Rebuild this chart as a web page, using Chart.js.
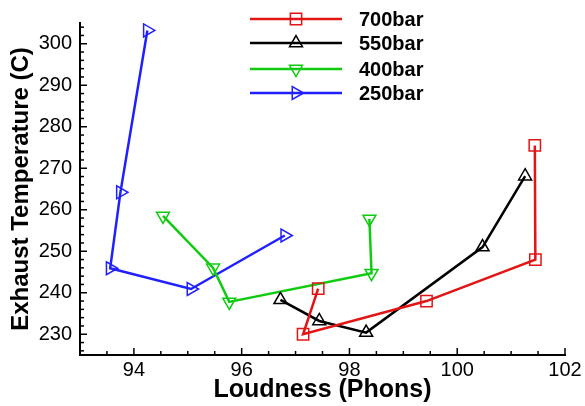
<!DOCTYPE html>
<html>
<head>
<meta charset="utf-8">
<script src="https://cdn.jsdelivr.net/npm/chart.js@4.4.0/dist/chart.umd.min.js"></script>
<style>
html,body{margin:0;padding:0;background:#fff;}
</style>
</head>
<body>
<canvas id="grafico" width="585" height="406"></canvas>
<script>
var serie = ['700bar', '550bar', '400bar', '250bar'];
var loud700 = [97.42, 97.14, 99.43, 101.45, 101.44];
var temp700 = [241, 230, 238, 248, 275.5];
var loud550 = [96.72, 97.44, 98.31, 100.47, 101.26];
var temp550 = [238.3, 233.2, 230.4, 251, 268.1];
var loud400 = [94.54, 95.47, 95.77, 98.41, 98.37];
var temp400 = [258.5, 246, 237.8, 244.7, 257.8];
var loud250 = [94.25, 93.75, 93.56, 95.06, 96.8];
var temp250 = [303.2, 264.2, 245.9, 240.9, 253.8];
var tickX = [94, 96, 98, 100, 102];
var tickY = [230, 240, 250, 260, 270, 280, 290, 300];

var font = 'Liberation Sans, Arial, sans-serif';

function punti(xs, ys){
  var out = [];
  for (var i = 0; i < xs.length; i++){
    out.push({x: xs[i], y: ys[i]});
  }
  return out;
}

function serieDataset(nome, xs, ys, colore, stile, raggio, rot){
  return {
    label: nome,
    data: punti(xs, ys),
    showLine: true,
    borderColor: colore,
    borderWidth: 2.5,
    pointStyle: stile,
    pointRadius: raggio,
    pointRotation: rot,
    pointBorderColor: colore,
    pointBackgroundColor: 'rgba(255,255,255,0)',
    pointBorderWidth: 1.5,
    tension: 0
  };
}

// tacche interne + legenda disegnate a mano
var tacche = {
  id: 'tacche',
  afterDraw: function(chart){
    var ctx = chart.ctx;
    var sx = chart.scales.x, sy = chart.scales.y;
    var area = chart.chartArea;
    ctx.save();
    ctx.strokeStyle = '#000';
    ctx.lineWidth = 1.5;
    var v, p, len;
    for (v = 93; v <= 102.001; v += 0.5){
      p = sx.getPixelForValue(v);
      len = (Math.abs(v % 2) < 0.01) ? 7 : 4;
      ctx.beginPath();
      ctx.moveTo(p, area.bottom);
      ctx.lineTo(p, area.bottom - len);
      ctx.stroke();
    }
    for (v = 226; v <= 304.001; v += 2){
      p = sy.getPixelForValue(v);
      len = (Math.abs(v % 10) < 0.01) ? 7 : 4;
      ctx.beginPath();
      ctx.moveTo(area.left, p);
      ctx.lineTo(area.left + len, p);
      ctx.stroke();
    }

    // legenda
    var righe = [19, 43, 69, 93];
    for (var i = 0; i < chart.data.datasets.length; i++){
      var ds = chart.data.datasets[i];
      var y = righe[i];
      ctx.strokeStyle = ds.borderColor;
      ctx.lineWidth = 2.5;
      ctx.beginPath();
      ctx.moveTo(250, y);
      ctx.lineTo(342, y);
      ctx.stroke();
      ctx.lineWidth = 1.5;
      ctx.fillStyle = 'rgba(255,255,255,0)';
      Chart.helpers.drawPoint(ctx, {
        pointStyle: ds.pointStyle,
        radius: ds.pointRadius,
        rotation: ds.pointRotation,
        borderWidth: 1.5
      }, 296, y);
      ctx.fillStyle = '#000';
      ctx.font = 'bold 20px ' + font;
      ctx.textBaseline = 'middle';
      ctx.textAlign = 'left';
      ctx.fillText(ds.label, 359, y + 1);
    }
    ctx.restore();
  }
};

var grafico = new Chart(document.getElementById('grafico'), {
  type: 'scatter',
  data: {
    datasets: [
      serieDataset(serie[0], loud700, temp700, '#e31414', 'rect', 8, 0),
      serieDataset(serie[1], loud550, temp550, '#000000', 'triangle', 7.5, 0),
      serieDataset(serie[2], loud400, temp400, '#10cc10', 'triangle', 7.5, 180),
      serieDataset(serie[3], loud250, temp250, '#2020ff', 'triangle', 7.5, 90)
    ]
  },
  options: {
    responsive: false,
    devicePixelRatio: 1,
    animation: false,
    layout: {padding: {top: 23, right: 20, left: 0, bottom: 0}},
    plugins: {legend: {display: false}, tooltip: {enabled: false}},
    scales: {
      x: {
        type: 'linear',
        min: 93,
        max: 102,
        grid: {display: false, drawTicks: false},
        border: {display: true, color: '#000', width: 2},
        afterBuildTicks: function(s){ s.ticks = tickX.map(function(v){ return {value: v}; }); },
        afterFit: function(s){ s.height = 51; },
        ticks: {color: '#000', font: {family: font, size: 20}, padding: 3, maxRotation: 0},
        title: {display: true, text: 'Loudness (Phons)', color: '#000',
                font: {family: font, size: 25, weight: 'bold'}, padding: {bottom: 1}}
      },
      y: {
        type: 'linear',
        min: 225,
        max: 305,
        grid: {display: false, drawTicks: false},
        border: {display: true, color: '#000', width: 2},
        afterBuildTicks: function(s){ s.ticks = tickY.map(function(v){ return {value: v}; }); },
        afterFit: function(s){ s.width = 80; },
        ticks: {color: '#000', font: {family: font, size: 20}, padding: 8},
        title: {display: true, text: 'Exhaust Temperature (C)', color: '#000',
                font: {family: font, size: 24, weight: 'bold'}, padding: {top: 7}}
      }
    }
  },
  plugins: [tacche]
});
</script>
</body>
</html>
